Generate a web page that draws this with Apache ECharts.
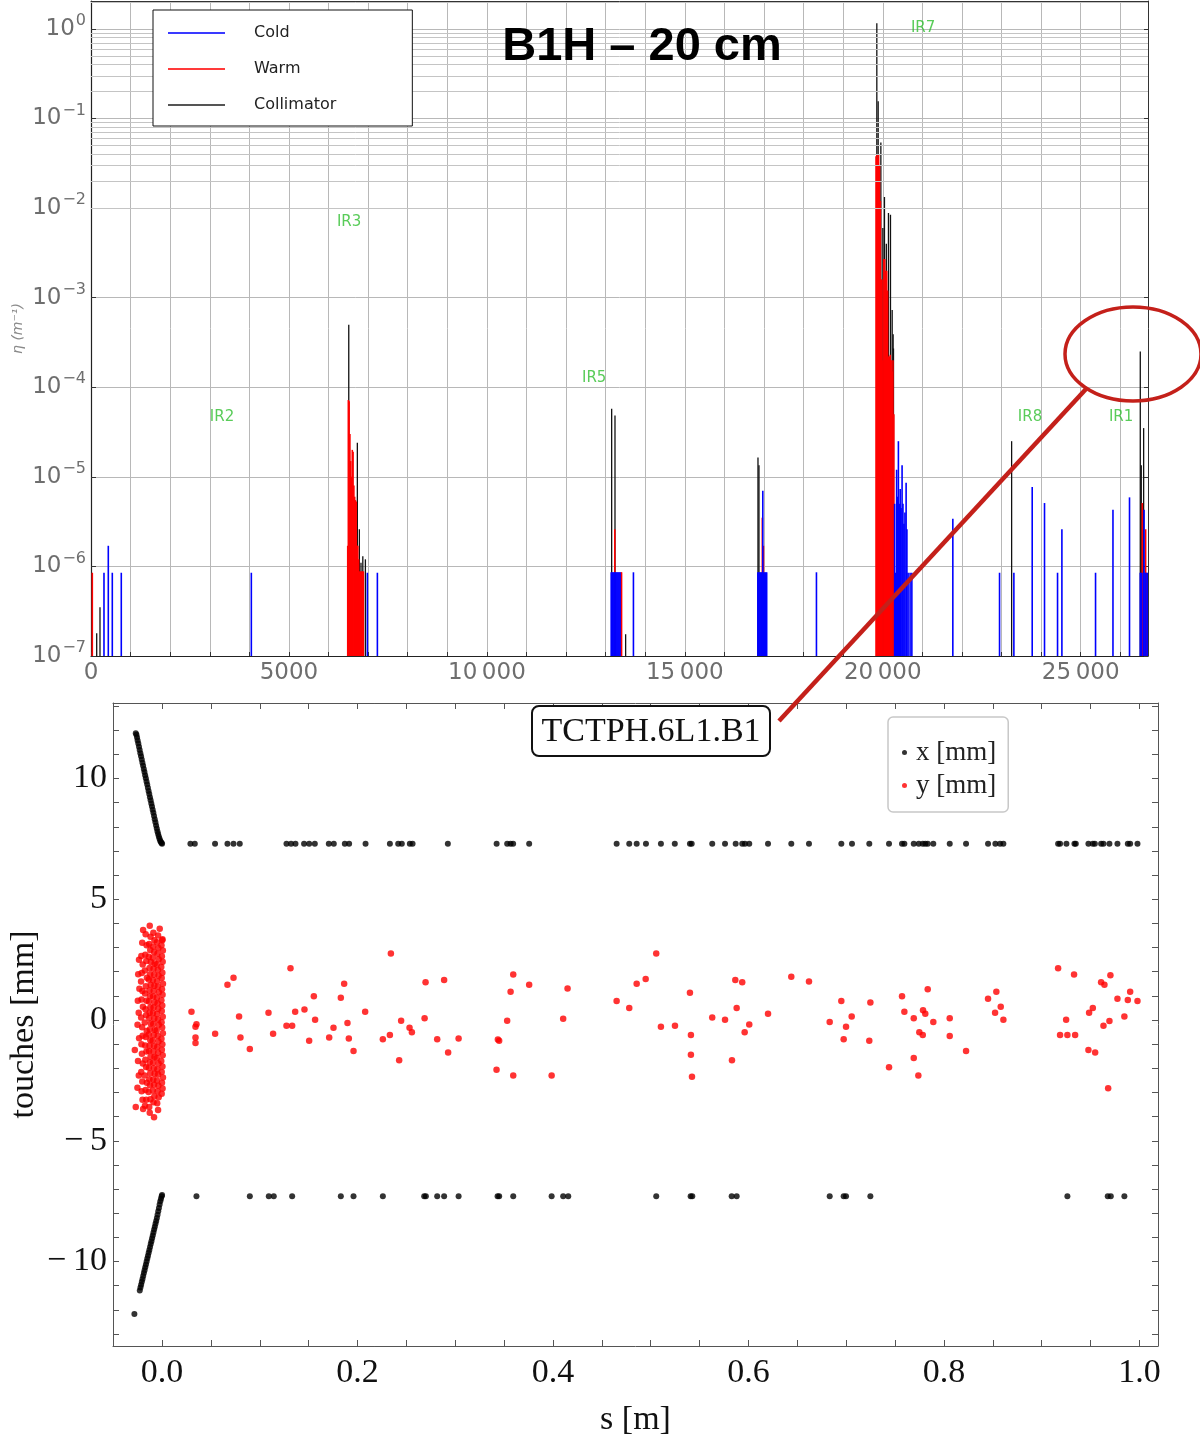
<!DOCTYPE html>
<html><head><meta charset="utf-8">
<script src="https://cdn.jsdelivr.net/npm/echarts@6/dist/echarts.min.js"></script>
<style>html,body{margin:0;padding:0;background:#fff}#c{width:1200px;height:1440px}</style>
</head><body><div id="c"></div>
<script>
// ---------------- TOP CHART DATA: loss map (s [m], eta [1/m]) ----------------
const coldSpikes = [
  [328, 8.5e-7], [437, 1.7e-6], [538, 8.5e-7], [765, 8.5e-7], [4050, 8.5e-7],
  [6981, 8.5e-7], [7234, 8.5e-7],
  [13140, 8.6e-7], [13165, 8.6e-7], [13190, 8.6e-7], [13215, 8.6e-7], [13240, 8.6e-7], [13265, 8.6e-7],
  [13290, 8.6e-7], [13315, 8.6e-7], [13340, 8.6e-7], [13365, 8.6e-7], [13702, 8.6e-7],
  [16845, 8.6e-7], [16870, 8.6e-7], [16895, 8.6e-7], [16920, 8.6e-7], [16945, 8.6e-7], [16970, 7.0e-6],
  [16995, 8.6e-7], [17020, 8.6e-7], [17045, 8.6e-7], [17068, 8.6e-7], [18325, 8.6e-7],
  [20300, 5.0e-6], [20325, 8.5e-7], [20350, 1.2e-5], [20372, 6.0e-6], [20395, 2.5e-5], [20418, 5.0e-6],
  [20440, 7.3e-6], [20462, 4.5e-6], [20488, 1.35e-5], [20510, 5.0e-6], [20535, 3.0e-6], [20560, 4.0e-6],
  [20590, 8.6e-6], [20610, 2.6e-6], [20640, 8.5e-7], [20690, 8.5e-7], [20735, 8.5e-7],
  [21770, 3.4e-6], [22950, 8.5e-7], [23312, 8.5e-7], [23775, 7.7e-6], [24086, 5.1e-6], [24415, 8.5e-7],
  [24525, 2.6e-6], [25375, 8.5e-7], [25815, 4.3e-6], [26233, 5.9e-6],
  [26505, 8.5e-7], [26530, 8.5e-7], [26580, 8.5e-7], [26600, 4.3e-6], [26625, 8.5e-7],
  [26650, 8.5e-7], [26690, 8.5e-7]
];
const warmSpikes = [
  [33, 8.5e-7],
  [6485, 1.7e-6], [6500, 7.2e-5], [6520, 7.0e-5], [6540, 3.0e-5], [6560, 1.5e-5], [6580, 1.0e-5],
  [6600, 2.0e-5], [6620, 1.9e-5], [6640, 8.0e-6], [6660, 6.0e-6], [6680, 5.5e-6], [6700, 5.3e-6],
  [6720, 1.7e-6], [6740, 1.7e-6], [6760, 1.2e-6], [6780, 8.8e-7], [6800, 8.8e-7], [6820, 8.8e-7],
  [6840, 8.8e-7], [6860, 8.8e-7], [6880, 8.8e-7],
  [13231, 2.6e-6], [13390, 8.6e-7], [13402, 8.6e-7],
  [16958, 3.5e-6], [16985, 1.7e-6],
  [19830, 0.038], [19850, 0.040], [19872, 0.036], [19895, 0.040], [19918, 0.030], [19940, 0.012],
  [19960, 0.0016], [19982, 0.0016], [20005, 2.0e-4], [20028, 0.0027], [20050, 0.0027], [20075, 0.0020],
  [20100, 0.0020], [20122, 0.0012], [20145, 2.2e-4], [20168, 2.2e-4], [20190, 2.3e-4], [20212, 2.0e-4],
  [20235, 1.5e-4], [20258, 2.0e-4], [20280, 5.0e-5],
  [26555, 5.1e-6], [26640, 2.6e-6], [26665, 8.5e-7]
];
const collimatorSpikes = [
  [144, 1.8e-7], [227, 3.5e-7],
  [6511, 5.0e-4], [6560, 1.0e-5], [6728, 2.4e-5], [6779, 2.6e-6], [6820, 1.1e-6], [6866, 1.3e-6], [6931, 1.2e-6],
  [13152, 5.74e-5], [13236, 4.83e-5], [13505, 1.75e-7],
  [16848, 1.64e-5], [16873, 1.35e-5],
  [19850, 1.16], [19884, 0.156], [19952, 0.054], [20002, 0.006], [20043, 0.0133], [20090, 0.004],
  [20144, 0.0088], [20195, 0.0084], [20238, 7.3e-4], [20262, 3.9e-4], [20271, 2.7e-4],
  [23255, 2.5e-5],
  [26505, 2.5e-4], [26530, 1.35e-5], [26590, 3.5e-5]
];
const irLabels = [
  ['IR2', 3310, 4.7e-5], ['IR3', 6520, 7.0e-3], ['IR5', 12710, 1.27e-4],
  ['IR7', 21020, 1.03], ['IR8', 23720, 4.7e-5], ['IR1', 26020, 4.7e-5]
];
const topXMin = 0, topXMax = 26700, topYMin = 1e-7, topYMax = 2.05;
const decadeExps = [-7, -6, -5, -4, -3, -2, -1, 0];
const minorMultipliers = [2, 3, 4, 5, 6, 7, 8, 9];

// ---------------- BOTTOM CHART DATA: touches on TCTPH.6L1.B1 ----------------
const xSlopeUpper = [
  [-0.0269,11.88],[-0.0262,11.82],[-0.0256,11.70],[-0.0250,11.58],[-0.0243,11.45],[-0.0236,11.32],
  [-0.0229,11.18],[-0.0222,11.05],[-0.0215,10.92],[-0.0208,10.79],[-0.0201,10.66],[-0.0194,10.53],
  [-0.0187,10.40],[-0.0180,10.27],[-0.0173,10.14],[-0.0166,10.01],[-0.0159,9.88],[-0.0152,9.75],
  [-0.0145,9.62],[-0.0138,9.49],[-0.0131,9.36],[-0.0124,9.23],[-0.0117,9.10],[-0.0110,8.97],
  [-0.0103,8.84],[-0.0096,8.71],[-0.0089,8.58],[-0.0082,8.45],[-0.0075,8.32],[-0.0068,8.19],
  [-0.0061,8.06],[-0.0054,7.93],[-0.0047,7.81],[-0.0040,7.70],[-0.0033,7.60],[-0.0026,7.51],
  [-0.0019,7.43],[-0.0012,7.37],[-0.0005,7.33],[0.0,7.30]
];
const xSlopeLower = [
  [-0.0283,-12.17],
  [-0.0228,-11.20],[-0.0221,-11.08],[-0.0214,-10.96],[-0.0207,-10.84],[-0.0200,-10.72],[-0.0193,-10.60],
  [-0.0186,-10.48],[-0.0179,-10.36],[-0.0172,-10.24],[-0.0165,-10.12],[-0.0158,-10.00],[-0.0151,-9.88],
  [-0.0144,-9.76],[-0.0137,-9.64],[-0.0130,-9.52],[-0.0123,-9.40],[-0.0116,-9.28],[-0.0109,-9.16],
  [-0.0102,-9.04],[-0.0095,-8.92],[-0.0088,-8.80],[-0.0081,-8.68],[-0.0074,-8.56],[-0.0067,-8.44],
  [-0.0060,-8.32],[-0.0053,-8.20],[-0.0046,-8.06],[-0.0039,-7.92],[-0.0032,-7.78],[-0.0025,-7.64],
  [-0.0018,-7.51],[-0.0011,-7.40],[-0.0004,-7.30],[0.0,-7.25]
];
const xRowUpper = [
  [0.029,7.3],[0.0335,7.3],[0.0542,7.3],[0.0669,7.3],[0.0731,7.3],[0.0795,7.3],[0.1273,7.3],[0.132,7.3],
  [0.1365,7.3],[0.1453,7.3],[0.1505,7.3],[0.1563,7.3],[0.1706,7.3],[0.1757,7.3],[0.187,7.3],[0.1914,7.3],
  [0.2082,7.3],[0.2331,7.3],[0.2416,7.3],[0.2453,7.3],[0.2535,7.3],[0.2563,7.3],[0.2924,7.3],[0.3423,7.3],
  [0.3531,7.3],[0.3566,7.3],[0.3592,7.3],[0.3756,7.3],[0.4651,7.3],[0.478,7.3],[0.4856,7.3],[0.4951,7.3],
  [0.5104,7.3],[0.5246,7.3],[0.5401,7.3],[0.5419,7.3],[0.5629,7.3],[0.576,7.3],[0.5869,7.3],[0.5936,7.3],
  [0.5964,7.3],[0.6008,7.3],[0.62,7.3],[0.6438,7.3],[0.6619,7.3],[0.695,7.3],[0.7059,7.3],[0.7236,7.3],
  [0.7438,7.3],[0.7571,7.3],[0.7595,7.3],[0.7691,7.3],[0.7742,7.3],[0.7783,7.3],[0.7809,7.3],[0.7834,7.3],
  [0.7891,7.3],[0.8059,7.3],[0.8226,7.3],[0.8451,7.3],[0.8526,7.3],[0.8574,7.3],[0.8608,7.3],[0.9168,7.3],
  [0.9188,7.3],[0.9253,7.3],[0.9335,7.3],[0.9349,7.3],[0.9478,7.3],[0.9523,7.3],[0.9544,7.3],[0.9608,7.3],
  [0.9632,7.3],[0.9693,7.3],[0.9775,7.3],[0.9881,7.3],[0.9905,7.3],[0.998,7.3]
];
const xRowLower = [
  [0.0352,-7.3],[0.0898,-7.3],[0.1092,-7.3],[0.1143,-7.3],[0.1331,-7.3],[0.1829,-7.3],[0.1959,-7.3],
  [0.2259,-7.3],[0.2682,-7.3],[0.2699,-7.3],[0.2815,-7.3],[0.2886,-7.3],[0.3034,-7.3],[0.3433,-7.3],
  [0.3449,-7.3],[0.3593,-7.3],[0.3986,-7.3],[0.4104,-7.3],[0.4156,-7.3],[0.5056,-7.3],[0.5408,-7.3],
  [0.5425,-7.3],[0.5828,-7.3],[0.5879,-7.3],[0.6831,-7.3],[0.6974,-7.3],[0.6998,-7.3],[0.7247,-7.3],
  [0.9263,-7.3],[0.9676,-7.3],[0.9707,-7.3],[0.9846,-7.3]
];
const yCluster = [
  [0.0004,3.35],[-0.0006,3.1],[0.0008,2.88],[-0.0002,2.64],[0.0006,2.41],[-0.0008,2.2],[0.0003,1.96],
  [-0.0004,1.74],[0.0009,1.5],[-0.0001,1.27],[0.0005,1.05],[-0.0007,0.82],[0.0002,0.6],[-0.0003,0.37],
  [0.0007,0.14],[-0.0005,-0.09],[0.0001,-0.31],[0.0008,-0.55],[-0.0006,-0.78],[0.0003,-1.0],[-0.0002,-1.23],
  [0.0006,-1.46],[-0.0008,-1.7],[0.0004,-1.92],[-0.0004,-2.15],[0.0009,-2.38],[-0.0001,-2.6],[0.0005,-2.84],
  [-0.0004,-3.05],[-0.0024,3.78],[0.0002,3.3],
  [-0.0041,3.5],[-0.0052,3.22],[-0.0038,2.98],[-0.0047,2.75],[-0.0035,2.52],[-0.0055,2.3],[-0.0043,2.07],
  [-0.0036,1.83],[-0.005,1.61],[-0.0044,1.38],[-0.0033,1.15],[-0.0053,0.93],[-0.0046,0.7],[-0.0039,0.47],
  [-0.0051,0.25],[-0.0042,0.02],[-0.0034,-0.2],[-0.0056,-0.43],[-0.0045,-0.66],[-0.0037,-0.89],[-0.0049,-1.12],
  [-0.004,-1.35],[-0.0054,-1.57],[-0.0036,-1.8],[-0.0048,-2.04],[-0.0041,-2.26],[-0.0052,-2.5],[-0.0038,-2.72],
  [-0.0046,-2.95],[-0.0035,-3.2],[-0.005,-3.45],[-0.0041,-3.73],
  [-0.0089,3.62],[-0.0078,3.3],[-0.0092,3.05],[-0.0082,2.82],[-0.0095,2.58],[-0.0076,2.34],[-0.0088,2.12],
  [-0.0081,1.88],[-0.0094,1.66],[-0.0079,1.42],[-0.0086,1.2],[-0.0091,0.97],[-0.0077,0.74],[-0.0087,0.52],
  [-0.0093,0.29],[-0.008,0.06],[-0.009,-0.16],[-0.0075,-0.4],[-0.0085,-0.62],[-0.0096,-0.85],[-0.0082,-1.08],
  [-0.0089,-1.3],[-0.0078,-1.53],[-0.0092,-1.77],[-0.0084,-2.0],[-0.0076,-2.22],[-0.009,-2.46],[-0.0083,-2.68],
  [-0.0095,-2.92],[-0.0079,-3.16],[-0.0088,-3.4],[-0.0082,-4.03],
  [-0.0126,3.9],[-0.0118,3.45],[-0.0132,3.15],[-0.0121,2.9],[-0.0135,2.62],[-0.0115,2.4],[-0.0128,2.15],
  [-0.0122,1.9],[-0.0136,1.68],[-0.0117,1.45],[-0.0129,1.22],[-0.0124,0.99],[-0.0134,0.77],[-0.0119,0.53],
  [-0.0127,0.3],[-0.0131,0.08],[-0.0116,-0.14],[-0.0125,-0.38],[-0.0137,-0.6],[-0.012,-0.84],[-0.0128,-1.06],
  [-0.0133,-1.28],[-0.0118,-1.52],[-0.0126,-1.75],[-0.0135,-1.98],[-0.0121,-2.2],[-0.013,-2.45],[-0.0124,-2.7],
  [-0.0138,-2.98],[-0.0119,-3.28],[-0.0131,-3.6],[-0.0126,-3.84],
  [-0.0168,3.55],[-0.0158,3.1],[-0.0172,2.7],[-0.0161,2.45],[-0.0176,2.05],[-0.0155,1.75],[-0.0166,1.4],
  [-0.0174,1.1],[-0.0159,0.8],[-0.0169,0.45],[-0.0163,0.2],[-0.0177,-0.1],[-0.0157,-0.45],[-0.0167,-0.7],
  [-0.0173,-1.05],[-0.016,-1.3],[-0.0171,-1.65],[-0.0164,-1.95],[-0.0178,-2.3],[-0.0156,-2.6],[-0.0169,-2.9],
  [-0.0162,-3.3],[-0.0175,-3.55],
  [-0.0194,3.73],[-0.0203,3.2],[-0.0212,2.65],[-0.0198,2.3],[-0.0208,1.95],[-0.0215,1.6],[-0.0201,1.2],
  [-0.021,0.85],[-0.0196,0.55],[-0.0214,0.1],[-0.0204,-0.3],[-0.0199,-0.65],[-0.0211,-1.0],[-0.0206,-1.4],
  [-0.0197,-1.8],[-0.0213,-2.15],[-0.0202,-2.55],[-0.0209,-2.95],[-0.02,-3.3],[-0.0194,-3.68],
  [-0.0236,2.5],[-0.0244,1.9],[-0.0232,1.3],[-0.0248,0.8],[-0.0239,0.3],[-0.0251,-0.2],[-0.0235,-0.75],
  [-0.0279,-1.24],[-0.0246,-1.7],[-0.0238,-2.3],[-0.0252,-2.8],[-0.0269,-3.6]
];
const yScatter = [
  [0.0301,0.34],[0.0342,-0.28],[0.0352,-0.17],[0.0342,-0.72],[0.0342,-0.95],[0.0543,-0.57],[0.0669,1.46],
  [0.0731,1.75],[0.0788,0.15],[0.0802,-0.72],[0.0898,-1.2],[0.1089,0.30],[0.1136,-0.57],[0.1273,-0.24],
  [0.1331,-0.24],[0.1314,2.14],[0.1362,0.34],[0.1457,0.44],[0.1505,-0.86],[0.1553,0.98],[0.1566,0.01],
  [0.1710,-0.72],[0.1754,-0.32],[0.1829,0.92],[0.1863,1.50],[0.1897,-0.12],[0.1911,-0.76],[0.1959,-1.28],
  [0.2078,0.34],[0.2259,-0.80],[0.2331,-0.62],[0.2341,2.76],[0.2426,-1.67],[0.2446,-0.03],[0.2532,-0.32],
  [0.2556,-0.51],[0.2686,0.07],[0.2696,1.56],[0.2815,-0.80],[0.2886,1.66],[0.2927,-1.34],[0.3034,-0.76],
  [0.3422,-2.06],[0.3436,-0.81],[0.3449,-0.86],[0.3531,-0.03],[0.3566,1.17],[0.3593,1.89],[0.3593,-2.30],
  [0.3756,1.46],[0.3986,-2.30],[0.4104,0.05],[0.4149,1.31],[0.4651,0.79],[0.4780,0.50],[0.4856,1.50],
  [0.4948,1.70],[0.5056,2.76],[0.5104,-0.28],[0.5248,-0.24],[0.5401,1.13],[0.5411,-0.62],[0.5411,-1.44],
  [0.5422,-2.35],[0.5629,0.11],[0.5760,0.01],[0.5831,-1.67],[0.5865,1.66],[0.5879,0.50],[0.5936,1.56],
  [0.5961,-0.51],[0.6008,-0.18],[0.6200,0.26],[0.6438,1.79],[0.6619,1.60],[0.6831,-0.08],[0.6950,0.79],
  [0.6974,-0.80],[0.6998,-0.28],[0.7056,0.15],[0.7236,-0.86],[0.7247,0.73],[0.7438,-1.96],[0.7571,0.98],
  [0.7595,0.34],[0.7691,0.07],[0.7691,-1.57],[0.7738,-2.30],[0.7748,-0.51],[0.7783,-0.62],[0.7786,0.40],
  [0.7809,0.26],[0.7834,1.27],[0.7891,-0.08],[0.8059,0.07],[0.8059,-0.66],[0.8226,-1.28],[0.8451,0.88],
  [0.8536,1.17],[0.8523,0.30],[0.8581,0.55],[0.8608,0.01],[0.9168,2.14],[0.9188,-0.62],[0.9250,0.01],
  [0.9263,-0.62],[0.9331,1.89],[0.9342,-0.62],[0.9478,-1.24],[0.9485,0.30],[0.9523,0.50],[0.9547,-1.34],
  [0.9608,1.56],[0.9632,-0.24],[0.9642,1.46],[0.9680,-2.83],[0.9693,-0.04],[0.9703,1.85],[0.9775,0.88],
  [0.9846,0.15],[0.9881,0.83],[0.9905,1.17],[0.9980,0.79]
];
const botXMin = -0.0502, botXMax = 1.019, botYMin = -13.5, botYMax = 13.13;
const botXLabels = [0, 0.2, 0.4, 0.6, 0.8, 1.0];
const botXTicks = [0, 0.05, 0.1, 0.15, 0.2, 0.25, 0.3, 0.35, 0.4, 0.45, 0.5, 0.55, 0.6, 0.65, 0.7, 0.75, 0.8, 0.85, 0.9, 0.95, 1.0];
const botYLabels = [-10, -5, 0, 5, 10];
const botYTicks = [-13,-12,-11,-10,-9,-8,-7,-6,-5,-4,-3,-2,-1,0,1,2,3,4,5,6,7,8,9,10,11,12,13];

// ---------------- helpers ----------------
const minorGridValues = [];
decadeExps.forEach(e => minorMultipliers.forEach(m => {
  const v = m * Math.pow(10, e);
  if (v < topYMax) minorGridValues.push(v);
}));

function spikeRender(width) {
  return function (params, api) {
    const top = api.coord([api.value(0), api.value(1)]);
    const base = api.coord([api.value(0), topYMin]);
    return { type: 'line', shape: { x1: top[0], y1: top[1], x2: base[0], y2: base[1] },
             style: { stroke: api.visual('color'), lineWidth: width } };
  };
}
function logLabel(v) {
  const l = Math.log10(v), e = Math.round(l);
  if (Math.abs(l - e) > 1e-6) return '';
  return '{b|10}{s|' + (e < 0 ? '\u2212' + (-e) : e) + '}';
}
function sLabel(v) {
  if (v % 5000 !== 0) return '';
  if (v >= 10000) return Math.floor(v / 1000) + '\u2009' + String(v % 1000).padStart(3, '0');
  return String(v);
}
const gray = '#6e6e6e';
const serif = 'Liberation Serif';

const chart = echarts.init(document.getElementById('c'), null, { renderer: 'canvas' });
chart.setOption({
  animation: false,
  backgroundColor: '#fff',
  grid: [
    { left: 91, right: 52, top: 1, height: 655, outerBoundsMode: 'none', containLabel: false },
    { left: 113, right: 42, top: 703, height: 643, outerBoundsMode: 'none', containLabel: false }
  ],
  legend: [
    {
      left: 153, top: 10, orient: 'vertical', z: 50,
      data: [{ name: 'Cold', itemStyle: { color: '#3a3aff' } },
             { name: 'Warm', itemStyle: { color: '#ff3a3a' } },
             { name: 'Collimator', itemStyle: { color: '#555' } }],
      icon: 'rect', itemWidth: 57, itemHeight: 2, itemGap: 18,
      padding: [14, 76, 12, 15],
      borderColor: '#111', borderWidth: 1, backgroundColor: '#fff',
      textStyle: { fontFamily: 'DejaVu Sans', fontSize: 16, color: '#222', lineHeight: 18, padding: [0, 0, 0, 24] },
      selectedMode: false
    },
    {
      left: 888, top: 717, orient: 'vertical', z: 50,
      data: ['x [mm]', 'y [mm]'],
      icon: 'circle', itemWidth: 5, itemHeight: 5, itemGap: 0,
      padding: [19, 12, 10, 14],
      borderColor: '#c8c8c8', borderWidth: 1.5, borderRadius: 5, backgroundColor: '#fff',
      textStyle: { fontFamily: serif, fontSize: 27, color: '#222', lineHeight: 33, padding: [0, 0, 0, 4] },
      selectedMode: false
    }
  ],
  xAxis: [
    { type: 'value', gridIndex: 0, min: topXMin, max: topXMax, interval: 1000, position: 'bottom',
      axisLine: { onZero: false, lineStyle: { color: '#222', width: 1.2 } },
      axisTick: { inside: true, length: 4, lineStyle: { color: '#333' } },
      axisLabel: { formatter: sLabel, color: gray, fontSize: 23, fontFamily: 'DejaVu Sans', margin: 6 },
      splitLine: { show: true, lineStyle: { color: '#b8b8b8', width: 1 } } },
    { type: 'value', gridIndex: 0, min: topXMin, max: topXMax, position: 'top',
      axisLine: { show: true, onZero: false, lineStyle: { color: '#333' } }, axisTick: { show: false },
      axisLabel: { show: false }, splitLine: { show: false } },
    { type: 'value', gridIndex: 1, min: botXMin, max: botXMax, position: 'bottom',
      name: 's [m]', nameLocation: 'middle', nameGap: 57, nameMoveOverlap: false,
      nameTextStyle: { fontFamily: serif, fontSize: 34, color: '#111' },
      axisLine: { onZero: false, lineStyle: { color: '#555' } },
      axisTick: { inside: true, length: 6, customValues: botXTicks, lineStyle: { color: '#555' } },
      axisLabel: { customValues: botXLabels, formatter: v => v.toFixed(1), fontFamily: serif, fontSize: 34, color: '#111', margin: 10 },
      splitLine: { show: false } },
    { type: 'value', gridIndex: 1, min: botXMin, max: botXMax, position: 'top',
      axisLine: { onZero: false, lineStyle: { color: '#555' } },
      axisTick: { inside: true, length: 6, customValues: botXTicks, lineStyle: { color: '#555' } },
      axisLabel: { show: false }, splitLine: { show: false } }
  ],
  yAxis: [
    { type: 'log', logBase: 10, gridIndex: 0, min: topYMin, max: topYMax, splitNumber: 8, position: 'left',
      name: '\u03b7 (m\u207b\u00b9)', nameLocation: 'middle', nameGap: 66, nameMoveOverlap: false,
      nameTextStyle: { color: '#8a8a8a', fontSize: 14, fontStyle: 'italic', fontFamily: 'DejaVu Sans' },
      axisLine: { onZero: false, lineStyle: { color: '#222', width: 1.2 } },
      axisTick: { inside: true, length: 5, lineStyle: { color: '#333' } },
      axisLabel: { formatter: logLabel, color: gray, margin: 5, fontFamily: 'DejaVu Sans',
        rich: { b: { fontSize: 23, color: gray, fontFamily: 'DejaVu Sans' },
                s: { fontSize: 16, color: gray, fontFamily: 'DejaVu Sans', padding: [0, 0, 16, 1] } } },
      splitLine: { show: true, lineStyle: { color: '#b8b8b8', width: 1 } } },
    { type: 'log', logBase: 10, gridIndex: 0, min: topYMin, max: topYMax, splitNumber: 8, position: 'right',
      axisLine: { show: true, onZero: false, lineStyle: { color: '#333' } },
      axisTick: { inside: true, length: 4, lineStyle: { color: '#333' } },
      axisLabel: { show: false }, splitLine: { show: false } },
    { type: 'value', gridIndex: 1, min: botYMin, max: botYMax, position: 'left',
      name: 'touches [mm]', nameLocation: 'middle', nameGap: 72, nameMoveOverlap: false,
      nameTextStyle: { fontFamily: serif, fontSize: 34, color: '#111' },
      axisLine: { show: true, onZero: false, lineStyle: { color: '#555' } },
      axisTick: { show: true, inside: true, length: 6, customValues: botYTicks, lineStyle: { color: '#555' } },
      axisLabel: { customValues: botYLabels, fontFamily: serif, fontSize: 34, color: '#111', margin: 6,
        formatter: v => v < 0 ? '\u2212\u2009' + (-v) : String(v) },
      splitLine: { show: false } },
    { type: 'value', gridIndex: 1, min: botYMin, max: botYMax, position: 'right',
      axisLine: { show: true, onZero: false, lineStyle: { color: '#555' } },
      axisTick: { show: true, inside: true, length: 6, customValues: botYTicks, lineStyle: { color: '#555' } },
      axisLabel: { show: false }, splitLine: { show: false } }
  ],
  series: [
    { type: 'line', name: 'minorGrid', xAxisIndex: 0, yAxisIndex: 0, data: [], silent: true, z: 1,
      markLine: { silent: true, symbol: ['none', 'none'], label: { show: false },
        lineStyle: { color: '#c4c4c4', width: 1, type: 'solid' },
        data: minorGridValues.map(v => ({ yAxis: v })) } },
    { type: 'custom', name: 'Collimator', xAxisIndex: 0, yAxisIndex: 0, renderItem: spikeRender(1.3),
      encode: { x: 0, y: 1 }, data: collimatorSpikes, itemStyle: { color: '#111111' }, z: 3, clip: true },
    { type: 'custom', name: 'Warm', xAxisIndex: 0, yAxisIndex: 0, renderItem: spikeRender(1.6),
      encode: { x: 0, y: 1 }, data: warmSpikes, itemStyle: { color: '#ff0000' }, z: 4, clip: true },
    { type: 'custom', name: 'Cold', xAxisIndex: 0, yAxisIndex: 0, renderItem: spikeRender(1.6),
      encode: { x: 0, y: 1 }, data: coldSpikes, itemStyle: { color: '#0000ff' }, z: 5, clip: true },
    { type: 'scatter', name: 'irLabels', xAxisIndex: 0, yAxisIndex: 0, symbolSize: 0, z: 6,
      data: irLabels.map(d => ({ name: d[0], value: [d[1], d[2]] })),
      label: { show: true, position: 'inside', formatter: p => p.name, color: '#2fbf2f', fontSize: 15, fontFamily: 'DejaVu Sans' } },
    { type: 'scatter', name: 'x [mm]', xAxisIndex: 2, yAxisIndex: 2, symbolSize: 6,
      itemStyle: { color: '#000' }, data: xSlopeUpper.concat(xRowUpper, xSlopeLower, xRowLower), z: 3 },
    { type: 'scatter', name: 'y [mm]', xAxisIndex: 2, yAxisIndex: 2, symbolSize: 6.5,
      itemStyle: { color: '#ff0000' }, data: yCluster.concat(yScatter), z: 4 }
  ],
  graphic: [
    { type: 'text', x: 642, y: 47, z: 100,
      style: { text: 'B1H \u2013 20 cm', font: 'bold 47px "Liberation Sans"', fill: '#000', textAlign: 'center', textVerticalAlign: 'middle' } },
    { type: 'rect', shape: { x: 532, y: 706, width: 238, height: 50, r: 7 }, z: 100,
      style: { fill: '#fff', stroke: '#111', lineWidth: 2 } },
    { type: 'text', x: 651, y: 732, z: 101,
      style: { text: 'TCTPH.6L1.B1', font: '34px "Liberation Serif"', fill: '#111', textAlign: 'center', textVerticalAlign: 'middle' } },
    { type: 'ellipse', shape: { cx: 1133, cy: 354, rx: 68, ry: 47 }, z: 110,
      style: { fill: null, stroke: '#c4201a', lineWidth: 3.5 } },
    { type: 'line', shape: { x1: 1086, y1: 389, x2: 779, y2: 721 }, z: 110,
      style: { stroke: '#c4201a', lineWidth: 4.5 } }
  ]
});
</script></body></html>
